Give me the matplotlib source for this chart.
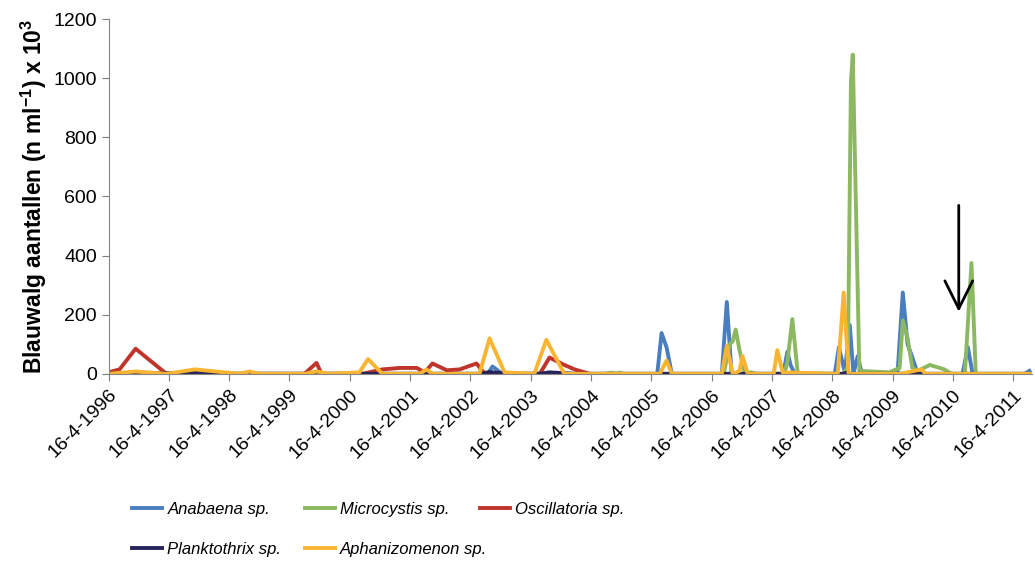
import pandas as pd
import matplotlib
matplotlib.use("Agg")
import matplotlib.pyplot as plt

plt.rcParams['font.family'] = ['Liberation Sans', 'DejaVu Sans']
plt.rcParams['mathtext.fontset'] = 'custom'
plt.rcParams['mathtext.rm'] = 'Liberation Sans'
plt.rcParams['mathtext.bf'] = 'Liberation Sans:bold'

# --- data (n/ml x 10^3) ---
anabaena_dates = ["1996-04-16", "2002-07-30", "2002-08-28", "2002-10-26", "2005-05-22", "2005-06-17",
                  "2005-07-17", "2005-08-18", "2006-06-17", "2006-07-17", "2006-08-15", "2007-06-24",
                  "2007-07-19", "2007-08-07", "2007-09-02", "2008-05-01", "2008-05-26", "2008-07-01",
                  "2008-07-31", "2008-08-22", "2008-09-17", "2008-10-12", "2009-05-16", "2009-06-17",
                  "2009-07-16", "2009-08-14", "2009-09-16", "2010-06-14", "2010-07-16", "2010-08-14",
                  "2011-06-25", "2011-07-24"]
anabaena = [0, 0, 25, 0, 0, 138, 90, 0, 0, 243, 0, 0, 75, 30, 0, 0, 90, 5, 165, 0, 60, 0, 0, 275,
            100, 55, 0, 0, 90, 0, 0, 10]

microcystis_dates = ["1996-04-16", "2004-07-08", "2004-08-18", "2004-09-16", "2004-10-05", "2004-10-30",
                     "2006-06-28", "2006-08-04", "2006-08-22", "2006-09-09", "2006-10-02", "2006-11-03",
                     "2006-12-13", "2007-01-07", "2007-07-01", "2007-07-19", "2007-08-18", "2007-09-20",
                     "2008-06-17", "2008-07-19", "2008-08-07", "2008-08-18", "2008-09-27", "2009-03-28",
                     "2009-05-29", "2009-06-17", "2009-07-16", "2009-08-14", "2009-09-16", "2009-11-28",
                     "2010-02-24", "2010-04-08", "2010-06-28", "2010-08-07", "2010-09-02", "2011-08-08"]
microcystis = [0, 0, 4, 0, 4, 0, 0, 100, 110, 150, 80, 0, 5, 0, 0, 40, 185, 0, 0, 20, 990, 1080, 10,
               5, 20, 180, 120, 20, 10, 30, 15, 0, 0, 375, 0, 0]

oscillatoria_dates = ["1996-04-16", "1996-06-21", "1996-09-26", "1997-04-01", "1999-07-16", "1999-09-27",
                      "1999-10-27", "2000-07-01", "2000-10-30", "2001-02-13", "2001-05-26", "2001-07-13",
                      "2001-08-29", "2001-11-24", "2002-02-10", "2002-05-23", "2002-07-12", "2003-06-10",
                      "2003-08-08", "2003-11-06", "2004-01-07", "2004-04-08"]
oscillatoria = [5, 15, 85, 0, 0, 37, 0, 0, 15, 20, 20, 5, 35, 12, 15, 35, 0, 0, 55, 30, 15, 0]

planktothrix_dates = ["1996-04-16", "1997-10-19", "1998-01-10", "2002-06-10", "2002-08-10", "2002-12-09",
                      "2003-06-10", "2003-08-08", "2004-01-07", "2008-06-17", "2008-07-12", "2008-08-07",
                      "2011-08-08"]
planktothrix = [0, 3, 0, 0, 6, 0, 0, 5, 0, 0, 4, 0, 0]

aphanizomenon_dates = ["1996-04-16", "1996-09-26", "1997-04-01", "1997-09-20", "1998-06-17", "1998-08-18",
                       "1998-10-16", "1999-07-16", "1999-09-27", "1999-12-13", "2000-06-13", "2000-08-04",
                       "2000-10-30", "2001-06-13", "2001-07-24", "2001-08-29", "2002-06-10", "2002-08-10",
                       "2002-11-09", "2003-05-08", "2003-07-20", "2003-11-06", "2005-06-06", "2005-07-17",
                       "2005-08-18", "2006-06-17", "2006-07-17", "2006-08-22", "2006-10-02", "2006-10-20",
                       "2006-11-21", "2007-04-27", "2007-05-19", "2007-06-20", "2008-05-19", "2008-06-24",
                       "2008-07-24", "2009-05-29", "2009-10-08", "2009-11-02", "2011-08-08"]
aphanizomenon = [0, 8, 0, 15, 0, 8, 0, 0, 8, 0, 5, 50, 0, 0, 15, 0, 0, 120, 5, 0, 115, 0, 0, 45, 0,
                 0, 95, 0, 10, 60, 0, 0, 80, 5, 0, 275, 0, 0, 15, 0, 0]

series = [
    ("Anabaena sp.", anabaena_dates, anabaena, "#4A7EBF"),
    ("Microcystis sp.", microcystis_dates, microcystis, "#8BB861"),
    ("Oscillatoria sp.", oscillatoria_dates, oscillatoria, "#C0352B"),
    ("Planktothrix sp.", planktothrix_dates, planktothrix, "#27245C"),
    ("Aphanizomenon sp.", aphanizomenon_dates, aphanizomenon, "#F9B532"),
]

tick_years = list(range(1996, 2012))
arrow_date = "2010-05-22"

fig = plt.figure(figsize=(10.35, 5.63), dpi=100)
ax = fig.add_axes([0.105, 0.336, 0.892, 0.630])

handles = {}
for name, d, v, c in series:
    h, = ax.plot(pd.to_datetime(d), v, color=c, lw=2.8, solid_joinstyle='round', label=name)
    handles[name] = h

ticks = pd.to_datetime([f"{y}-04-16" for y in tick_years])
ax.set_xticks(ticks)
ax.set_xticklabels([f"16-4-{y}" for y in tick_years], rotation=45, ha='right', rotation_mode='anchor')
ax.set_xlim(pd.Timestamp("1996-04-16"), pd.Timestamp("2011-08-08"))
ax.set_ylim(0, 1200)
ax.set_yticks(range(0, 1201, 200))
ax.tick_params(labelsize=14, color='#7f7f7f', length=5)
ax.tick_params(axis='x', pad=4)
for s in ['top', 'right']:
    ax.spines[s].set_visible(False)
for s in ['left', 'bottom']:
    ax.spines[s].set_color('#868686')

ax.set_ylabel(r"Blauwalg aantallen (n ml$^{\mathbf{-1}}$) x 10$^{\mathbf{3}}$", fontsize=16.5,
              fontweight='bold', labelpad=3)

ax.annotate("", xy=(pd.Timestamp(arrow_date), 210), xytext=(pd.Timestamp(arrow_date), 570),
            arrowprops=dict(arrowstyle='->,head_length=1.0,head_width=0.5', color='black',
                            lw=2, mutation_scale=20, shrinkA=0, shrinkB=0))

# legend: three fixed-width columns, filled row by row
columns = [["Anabaena sp.", "Planktothrix sp."], ["Microcystis sp.", "Aphanizomenon sp."],
           ["Oscillatoria sp."]]
col_x = [0.128, 0.295, 0.464]
for names, x0 in zip(columns, col_x):
    leg = fig.legend([handles[n] for n in names], names, loc='upper left',
                     bbox_to_anchor=(x0, 0.108), frameon=False, borderaxespad=0, borderpad=0,
                     prop={'style': 'italic', 'size': 12}, handlelength=1.8,
                     handletextpad=0.3, labelspacing=1.5)

fig.savefig("out.png", dpi=100)
